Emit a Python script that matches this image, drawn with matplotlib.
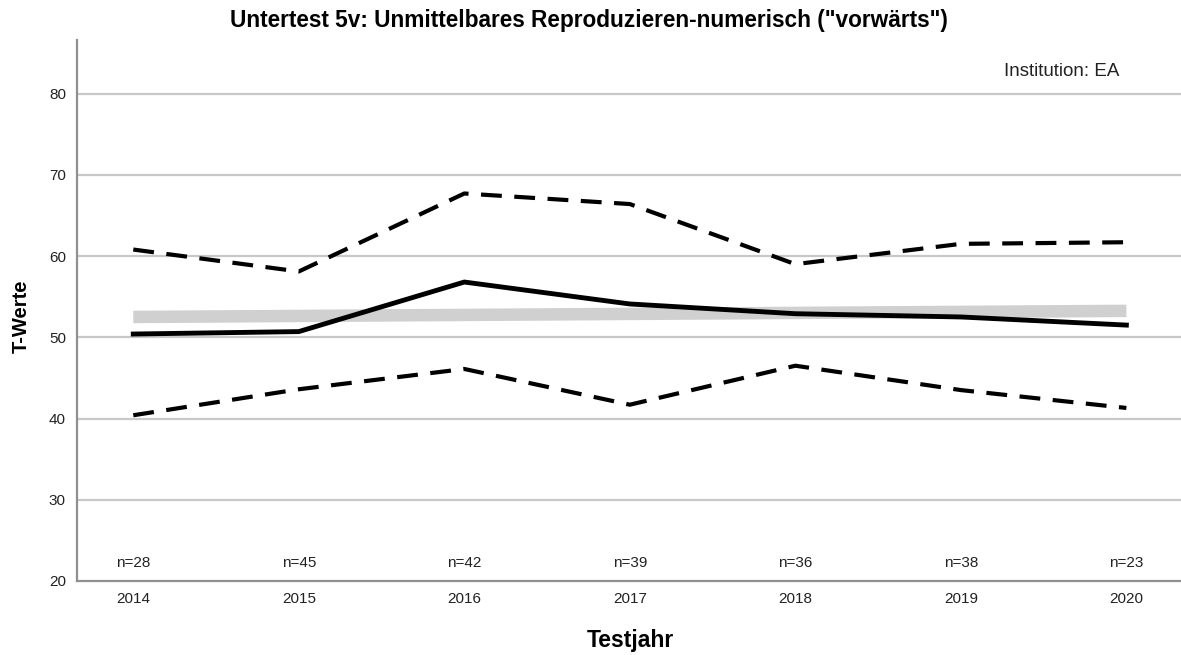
import matplotlib
matplotlib.use("Agg")
import matplotlib.pyplot as plt

plt.rcParams['font.family'] = ['Liberation Sans', 'DejaVu Sans']

# ---------------------------------------------------------------
# Daten
# ---------------------------------------------------------------
years = [2014, 2015, 2016, 2017, 2018, 2019, 2020]
mean_t = [50.4, 50.7, 56.8, 54.1, 52.9, 52.5, 51.5]
upper_t = [60.8, 58.1, 67.7, 66.4, 59.0, 61.5, 61.7]
lower_t = [40.4, 43.6, 46.1, 41.7, 46.5, 43.5, 41.3]
n_labels = ["n=28", "n=45", "n=42", "n=39", "n=36", "n=38", "n=23"]
ref_years = [2014, 2020]
ref_t = [52.5, 53.25]
y_ticks = [20, 30, 40, 50, 60, 70, 80]

# ---------------------------------------------------------------
# Plot
# ---------------------------------------------------------------
fig = plt.figure(figsize=(11.81, 6.55), dpi=100)
ax = fig.add_axes([0.0652, 0.113, 0.9348, 0.826])

for yt in y_ticks[1:]:
    ax.axhline(yt, color='#c8c8c8', linewidth=1.6, zorder=1)

# Referenzband (grau)
ax.plot(ref_years, ref_t, color='#d0d0d0', linewidth=9, solid_capstyle='butt', zorder=2)

# Mittelwert + Grenzen
ax.plot(years, mean_t, color='black', linewidth=3.5, zorder=4)
ax.plot(years, upper_t, color='black', linewidth=3, linestyle=(0, (5, 3)), zorder=3)
ax.plot(years, lower_t, color='black', linewidth=3, linestyle=(0, (5, 3)), zorder=3)

for yr, lab in zip(years, n_labels):
    ax.text(yr, 22.2, lab, ha='center', va='center', fontsize=11, color='#222222')

fig.text(1119 / 1181, 1 - 71 / 655, "Institution: EA", ha='right', va='center',
         fontsize=13.5, color='#222222')

ax.set_xlim(2013.66, 2020.33)
ax.set_ylim(20, 86.6)
ax.set_xticks(years)
ax.set_yticks(y_ticks)
ax.tick_params(axis='both', length=0, labelsize=11, colors='#222222', pad=8)

for s in ['top', 'right']:
    ax.spines[s].set_visible(False)
for s in ['left', 'bottom']:
    ax.spines[s].set_color('#909090')
    ax.spines[s].set_linewidth(1.6)

fig.text(589 / 1181, 1 - 20 / 655,
         'Untertest 5v: Unmittelbares Reproduzieren-numerisch ("vorwärts")',
         fontsize=16.3, fontweight='bold', ha='center', va='center')
fig.text(630 / 1181, 1 - 640 / 655, 'Testjahr', fontsize=16.5, fontweight='bold',
         ha='center', va='center')
fig.text(21 / 1181, 1 - 316 / 655, 'T-Werte', fontsize=14.5, fontweight='bold',
         ha='center', va='center', rotation=90)

plt.savefig("out.png", dpi=100)
